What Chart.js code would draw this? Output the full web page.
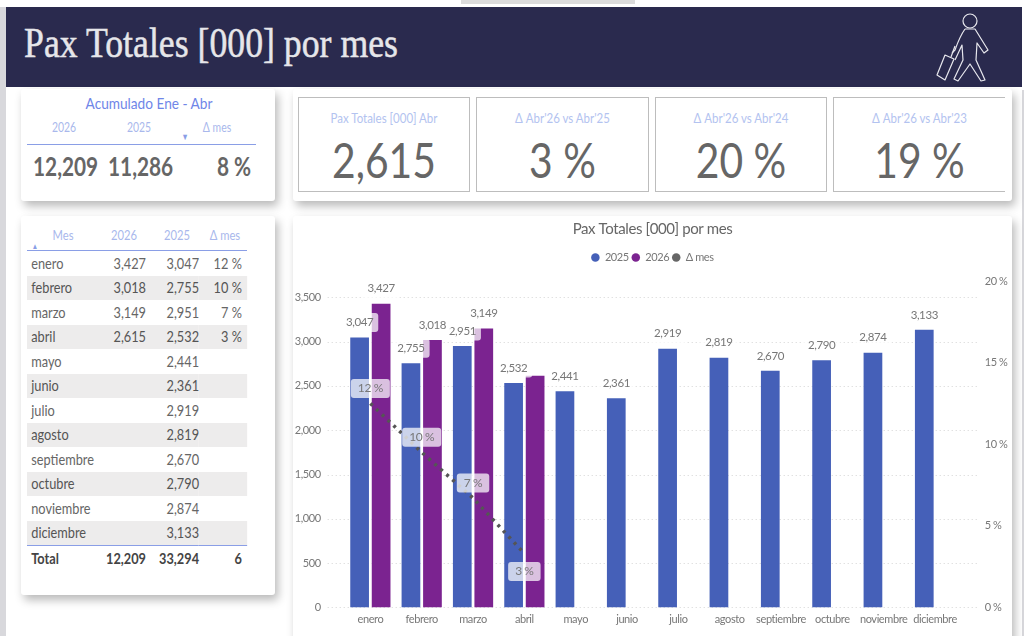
<!DOCTYPE html>
<html lang="es">
<head>
<meta charset="utf-8">
<title>Pax Totales [000] por mes</title>
<script src="https://cdn.jsdelivr.net/npm/chart.js@4"></script>
<style>
  html, body { margin: 0; padding: 0; background: #fff; width: 1024px; height: 636px; overflow: hidden; }
  body { position: relative; font-family: "Lato", sans-serif; color: #666; }
  .abs { position: absolute; }
  .card { position: absolute; background: #fff; border-radius: 3px; box-shadow: 3px 5px 10px rgba(0,0,0,.28); }
  #strip { left: 0; top: 7px; width: 6px; height: 629px; background: #d8d8dc; }
  #stripR { left: 1022px; top: 90px; width: 2px; height: 546px; background: #d8d8dc; }
  #topbar { left: 461px; top: 0; width: 174px; height: 4px; background: #dcdcdc; }
  #header { left: 6px; top: 7px; width: 1016px; height: 80px; background: #2a2a4e; }
  #header h1 { position: absolute; left: 18px; top: 12px; margin: 0; font: normal 42px "Liberation Serif", serif; -webkit-text-stroke: .5px #e6e6ea; color: #e6e6ea; white-space: nowrap; transform-origin: left top; }
  .c { position: absolute; transform: translateX(-50%) scaleX(.8); white-space: nowrap; }
  .num { position: absolute; top: 150px; font-size: 26px; font-weight: bold; transform: scaleX(.8); transform-origin: left top; white-space: nowrap; }
  .kpi { position: absolute; top: 97px; height: 95px; border: 1px solid #bdbdbd; box-sizing: border-box; background: #fff; text-align: center; }
  .kpi .t { margin-top: 12px; font-size: 14px; line-height: 16px; color: #b3c3f0; transform: scaleX(.82); white-space: nowrap; }
  .kpi .v { margin-top: 8px; font-size: 48px; line-height: 52px; color: #666; transform: scaleX(.85); white-space: nowrap; }
  #tabla { position: absolute; left: 27px; top: 251px; width: 258.8px; border-collapse: collapse; table-layout: fixed; font-size: 15px; color: #666; transform: scaleX(.85); transform-origin: left top; }
  #tabla td { height: 24.5px; padding: 0; box-sizing: border-box; line-height: 15px; }
  #tabla tr:nth-child(even) td { background: #edecec; color: #555; }
  #tabla td:nth-child(1) { padding-left: 5px; width: 80px; }
  #tabla td:nth-child(2) { text-align: right; width: 60px; }
  #tabla td:nth-child(3) { text-align: right; width: 62.4px; }
  #tabla td:nth-child(4) { text-align: right; padding-right: 6px; }
  #tabla tr.total td { background: #fff; font-weight: bold; color: #444; border-top: 1px solid #8a9ee6; height: 26px; }
  canvas { position: absolute; left: 293px; top: 216px; }
</style>
</head>
<body>
<div id="strip" class="abs"></div>
<div id="stripR" class="abs"></div>
<div id="topbar" class="abs"></div>
<div id="header" class="abs">
  <h1 id="titulo">Pax Totales [000] por mes</h1>
</div>
<svg class="abs" style="left:0;top:0" width="1024" height="90" fill="none" stroke="#e8e8ee" stroke-width="1.2" stroke-linejoin="round">
  <circle cx="970" cy="21" r="7"/>
  <path d="M965 29 L975 29 L988 50 L984 53 L977 43 L976 60 L985 80 L981 81 L970 64 L958 81 L954 79 L963 60 L962 45 L955 60"/>
  <path d="M965 29 Q960 36 955 50 L952 53"/>
  <path d="M945 55 L954 59 L945 80 L937 75 Z"/>
  <path d="M951 57 L955 46"/>
</svg>

<div class="card" style="left:21px;top:89px;width:254px;height:112px"></div>
<div class="c" style="left:149px;top:94px;font-size:15px;color:#6f86e8;transform:translateX(-50%) scaleX(.91)">Acumulado Ene - Abr</div>
<div class="c" style="left:64px;top:119px;font-size:13px;color:#a9b8ec">2026</div>
<div class="c" style="left:139px;top:119px;font-size:13px;color:#a9b8ec">2025</div>
<div class="c" style="left:217px;top:119px;font-size:13px;color:#a9b8ec">Δ mes</div>
<div class="c" style="left:185px;top:131px;font-size:9px;color:#8a9ee6">▼</div>
<div class="abs" style="left:27px;top:144px;width:229px;height:1px;background:#8a9ee6"></div>
<div class="num" style="left:33px" id="acum26"></div>
<div class="num" style="left:108px" id="acum25"></div>
<div class="num" style="left:217px">8 %</div>

<div class="card" style="left:293px;top:89px;width:719px;height:112px"></div>
<div class="kpi" style="left:298px;width:172px"><div class="t">Pax Totales [000] Abr</div><div class="v">2,615</div></div>
<div class="kpi" style="left:476px;width:173px"><div class="t">Δ Abr'26 vs Abr'25</div><div class="v">3 %</div></div>
<div class="kpi" style="left:655px;width:172px"><div class="t">Δ Abr'26 vs Abr'24</div><div class="v">20 %</div></div>
<div class="kpi" style="left:833px;width:172px;border-right:none"><div class="t">Δ Abr'26 vs Abr'23</div><div class="v">19 %</div></div>

<div class="card" style="left:21px;top:216px;width:254px;height:379px"></div>
<div class="c" style="left:63px;top:226px;font-size:14px;color:#a9b8ec">Mes</div>
<div class="c" style="left:124px;top:226px;font-size:14px;color:#a9b8ec">2026</div>
<div class="c" style="left:177px;top:226px;font-size:14px;color:#a9b8ec">2025</div>
<div class="c" style="left:225px;top:226px;font-size:14px;color:#a9b8ec">Δ mes</div>
<div class="c" style="left:35px;top:241px;font-size:8px;color:#8a9ee6">▲</div>
<div class="abs" style="left:27px;top:250px;width:220px;height:1px;background:#8a9ee6"></div>
<table id="tabla"></table>

<div class="card" style="left:293px;top:216px;width:719px;height:430px"></div>
<canvas id="paxChart" width="719" height="422"></canvas>

<script>
const meses = ['enero', 'febrero', 'marzo', 'abril', 'mayo', 'junio', 'julio', 'agosto', 'septiembre', 'octubre', 'noviembre', 'diciembre'];
const pax2025 = [3047, 2755, 2951, 2532, 2441, 2361, 2919, 2819, 2670, 2790, 2874, 3133];
const pax2026 = [3427, 3018, 3149, 2615, null, null, null, null, null, null, null, null];
const deltaMes = [12.5, 9.5, 6.7, 3.3, null, null, null, null, null, null, null, null];
const deltaEtiquetas = ['12 %', '10 %', '7 %', '3 %'];
const ticksPax = [0, 500, 1000, 1500, 2000, 2500, 3000, 3500];
const totales = ['Total', '12,209', '33,294', '6'];
const acumulado = ['12,209', '11,286'];

const FUENTE = '"Lato", sans-serif';
const GRIS = '#777';
const fmt = v => v == null ? '' : v.toLocaleString('en-US');

// cabecera: ajustar el ancho del titulo
const titulo = document.getElementById('titulo');
titulo.style.transform = `scaleX(${374 / titulo.getBoundingClientRect().width})`;

// tablas de la izquierda
document.getElementById('acum26').textContent = acumulado[0];
document.getElementById('acum25').textContent = acumulado[1];
let filas = '';
meses.forEach((m, i) => {
  filas += `<tr><td>${m}</td><td>${fmt(pax2026[i])}</td><td>${fmt(pax2025[i])}</td><td>${deltaEtiquetas[i] || ''}</td></tr>`;
});
filas += `<tr class="total">${totales.map(t => `<td>${t}</td>`).join('')}</tr>`;
document.getElementById('tabla').innerHTML = filas;

// lineas punteadas que pasan un poco mas alla del area del grafico
const rejilla = {
  id: 'rejilla',
  beforeDatasetsDraw(chart) {
    const { ctx, scales: { x, y } } = chart;
    ctx.save();
    ctx.strokeStyle = '#d4d4d4';
    ctx.lineWidth = 1;
    ctx.setLineDash([1, 3]);
    y.ticks.forEach(t => {
      const py = Math.round(y.getPixelForValue(t.value)) + 0.5;
      ctx.beginPath();
      ctx.moveTo(x.left - 17, py);
      ctx.lineTo(x.right + 16, py);
      ctx.stroke();
    });
    ctx.restore();
  }
};

function etiqueta(ctx, texto, cx, cy, padX, alto, size) {
  ctx.font = `${size}px ${FUENTE}`;
  const w = ctx.measureText(texto).width + padX * 2;
  ctx.fillStyle = 'rgba(255,255,255,0.72)';
  ctx.beginPath();
  ctx.roundRect(cx - w / 2, cy - alto / 2, w, alto, 3);
  ctx.fill();
  ctx.fillStyle = GRIS;
  ctx.textAlign = 'center';
  ctx.textBaseline = 'middle';
  ctx.fillText(texto, cx, cy);
}

const etiquetas = {
  id: 'etiquetas',
  afterDatasetsDraw(chart) {
    const { ctx } = chart;
    ctx.save();
    [0, 1].forEach(d => {
      chart.getDatasetMeta(d).data.forEach((el, i) => {
        const v = chart.data.datasets[d].data[i];
        // la etiqueta de abril 2026 no aparece en el original
        if (v != null && !(d === 1 && i === 3)) etiqueta(ctx, fmt(v), el.x, el.y - 15, 5, 19, 11.5);
      });
    });
    chart.getDatasetMeta(2).data.forEach((el, i) => {
      if (deltaMes[i] == null) return;
      const abajo = i === deltaEtiquetas.length - 1;
      etiqueta(ctx, deltaEtiquetas[i], el.x, el.y + (abajo ? 18 : -15), 7, 19, 12);
    });
    ctx.restore();
  }
};

// deja sitio debajo de la leyenda hasta el area del grafico
const espacioLeyenda = {
  id: 'espacioLeyenda',
  beforeLayout(chart) {
    const leyenda = chart.legend;
    if (leyenda && !leyenda._conEspacio) {
      const fit = leyenda.fit;
      leyenda.fit = function () { fit.call(this); this.height += 8; };
      leyenda._conEspacio = true;
    }
  }
};

// texto un poco mas estrecho en todo el canvas
const textoEstrecho = {
  id: 'textoEstrecho',
  beforeUpdate(chart) { chart.ctx.letterSpacing = '-0.4px'; },
  beforeDraw(chart) { chart.ctx.letterSpacing = '-0.4px'; }
};

new Chart(document.getElementById('paxChart'), {
  data: {
    labels: meses,
    datasets: [
      { type: 'bar', label: '2025', data: pax2025, backgroundColor: '#4560b8', yAxisID: 'y', order: 1, pointStyle: 'circle', categoryPercentage: 0.838, barPercentage: 0.87 },
      { type: 'bar', label: '2026', data: pax2026, backgroundColor: '#7b2390', yAxisID: 'y', order: 1, pointStyle: 'circle', categoryPercentage: 0.838, barPercentage: 0.87 },
      { type: 'line', label: 'Δ mes', data: deltaMes, yAxisID: 'y1', order: 0, borderColor: '#555', backgroundColor: '#666', borderWidth: 3.5, borderDash: [3, 5], pointRadius: 0, pointStyle: 'circle' }
    ]
  },
  plugins: [textoEstrecho, rejilla, etiquetas, espacioLeyenda],
  options: {
    responsive: false,
    animation: false,
    layout: { padding: 0 },
    plugins: {
      title: {
        display: true,
        text: 'Pax Totales [000] por mes',
        color: '#666',
        font: { family: FUENTE, size: 15, weight: 'normal' },
        padding: { top: 4, bottom: 11 }
      },
      legend: {
        display: true,
        position: 'top',
        labels: {
          usePointStyle: true,
          boxWidth: 8,
          boxHeight: 6,
          padding: 3,
          color: GRIS,
          font: { family: FUENTE, size: 11 },
          sort: (a, b) => a.datasetIndex - b.datasetIndex,
          generateLabels(chart) {
            return Chart.defaults.plugins.legend.labels.generateLabels(chart).map(it => ({ ...it, lineWidth: 0, lineDash: [] }));
          }
        }
      },
      tooltip: { enabled: false }
    },
    scales: {
      x: {
        grid: { display: false, drawTicks: false },
        border: { display: false },
        ticks: { color: GRIS, font: { family: FUENTE, size: 11 }, padding: 5, maxRotation: 0, autoSkip: false },
        afterFit(s) { s.height = 29.3; }
      },
      y: {
        position: 'left',
        min: 0,
        max: 3684,
        bounds: 'data',
        grid: { display: false, drawTicks: false },
        border: { display: false },
        ticks: { autoSkip: false, color: GRIS, font: { family: FUENTE, size: 11 }, padding: 24, callback: v => fmt(v) },
        afterBuildTicks(s) { s.ticks = ticksPax.map(value => ({ value })); },
        afterFit(s) { s.width = 51.7; }
      },
      y1: {
        position: 'right',
        min: 0,
        max: 20,
        grid: { display: false, drawTicks: false },
        border: { display: false },
        ticks: { stepSize: 5, color: GRIS, font: { family: FUENTE, size: 11 }, padding: 24, callback: v => v + ' %' },
        afterFit(s) { s.width = 51.3; }
      }
    }
  }
});
</script>
</body>
</html>
